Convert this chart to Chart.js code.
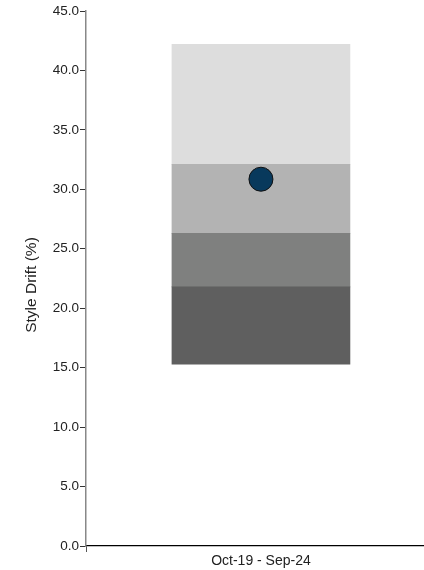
<!DOCTYPE html>
<html>
<head>
<meta charset="utf-8">
<script src="https://cdn.jsdelivr.net/npm/chart.js@4"></script>
<style>
html, body { margin: 0; padding: 0; overflow: hidden; background: #fff; }
#wrap { width: 424px; height: 570px; }
</style>
</head>
<body>
<div id="wrap"><canvas id="grafico"></canvas></div>
<script>
// data
const categories = ['Oct-19 - Sep-24'];
const bandEdges = [15.3, 21.8, 26.3, 32.1, 42.2];
const bandColors = ['#5f5f5f', '#7f807f', '#b3b3b3', '#dddddd'];
const fundDrift = [30.85];
const yTicks = [0, 5, 10, 15, 20, 25, 30, 35, 40, 45];

const fuente = "'Liberation Sans', Arial, sans-serif";

// the single category sits at x = 0; the plot is cut on the right like the reference
let datasets = [{
  type: 'line',
  label: 'Fund',
  data: fundDrift.map((v, i) => ({ x: i, y: v })),
  showLine: false,
  pointRadius: 12,
  pointHoverRadius: 12,
  pointBackgroundColor: '#08395c',
  pointBorderColor: '#111',
  pointBorderWidth: 1,
  order: 0
}];

for (let i = 0; i < bandColors.length; i++) {
  datasets.push({
    type: 'bar',
    label: 'Band ' + (i + 1),
    data: categories.map((c, k) => ({ x: k, y: [bandEdges[i], bandEdges[i + 1]] })),
    backgroundColor: bandColors[i],
    borderWidth: 0,
    barThickness: 178,
    grouped: false,
    order: 1
  });
}

// y axis title drawn centred on the whole canvas height
const tituloY = {
  id: 'tituloY',
  afterDraw(chart) {
    const c = chart.ctx;
    c.save();
    c.translate(32, 285);
    c.rotate(-Math.PI / 2);
    c.font = '15.5px ' + fuente;
    c.fillStyle = '#222';
    c.textAlign = 'center';
    c.textBaseline = 'middle';
    c.fillText('Style Drift (%)', 0, 0);
    c.restore();
  }
};

new Chart(document.getElementById('grafico'), {
  type: 'bar',
  data: { datasets: datasets },
  options: {
    responsive: true,
    maintainAspectRatio: false,
    animation: false,
    layout: { autoPadding: false, padding: { top: 11, left: 0, right: 0, bottom: 0 } },
    plugins: { legend: { display: false }, tooltip: { enabled: false } },
    scales: {
      x: {
        type: 'linear',
        min: -0.5,
        max: 0.466,
        offset: false,
        afterBuildTicks(s) { s.ticks = categories.map((c, k) => ({ value: k })); },
        grid: { drawOnChartArea: false, tickLength: 6, color: '#555' },
        border: { color: '#000', width: 1.2 },
        ticks: {
          color: '#222',
          font: { family: fuente, size: 14 },
          padding: 1,
          maxRotation: 0,
          callback: v => categories[v]
        },
        afterFit(s) { s.height = 24; }
      },
      y: {
        min: 0,
        max: 45,
        afterBuildTicks(s) { s.ticks = yTicks.map(v => ({ value: v })); },
        grid: { drawOnChartArea: false, tickLength: 6, color: '#333' },
        border: { color: '#888', width: 1.5 },
        ticks: {
          color: '#222',
          font: { family: fuente, size: 13.5 },
          padding: 1,
          callback: v => Number(v).toFixed(1)
        },
        afterFit(s) { s.width = 86; }
      }
    }
  },
  plugins: [tituloY]
});
</script>
</body>
</html>
